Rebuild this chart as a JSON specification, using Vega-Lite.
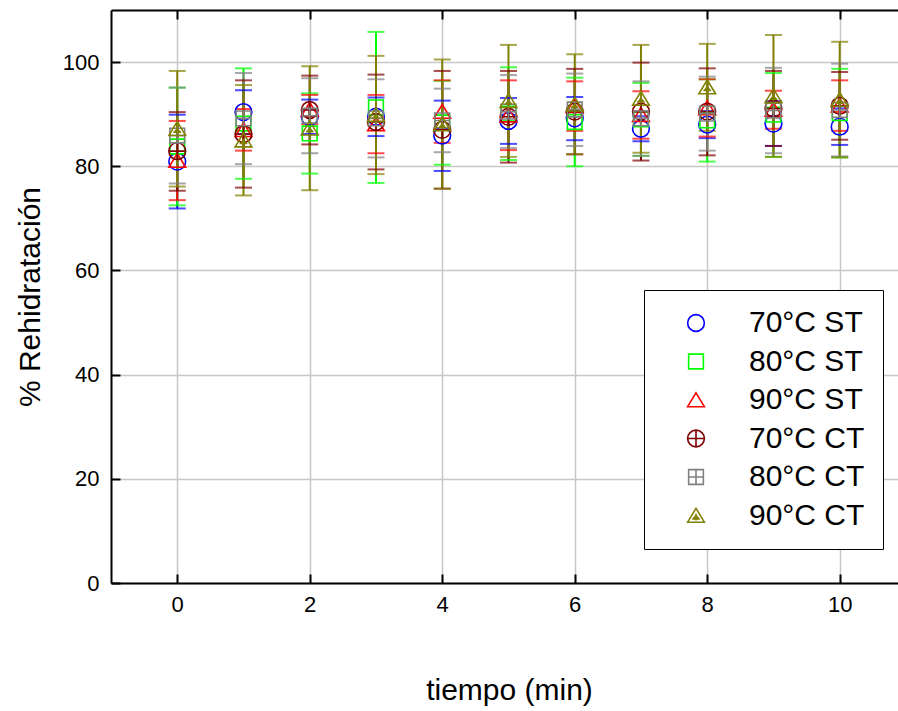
{
  "$schema": "https://vega.github.io/schema/vega-lite/v6.json",
  "autosize": "none",
  "width": 787,
  "height": 573,
  "padding": {"left": 111, "top": 10, "right": 0, "bottom": 128},
  "background": "white",
  "config": {
    "font": "Liberation Sans",
    "view": {"stroke": null},
    "axis": {
      "domainColor": "black",
      "domainWidth": 2,
      "tickColor": "black",
      "tickWidth": 2,
      "tickSize": -9,
      "gridColor": "#c8c8c8",
      "gridWidth": 1.5,
      "labelColor": "black",
      "labelFont": "Liberation Sans",
      "labelFontSize": 22,
      "titleColor": "black",
      "titleFont": "Liberation Sans",
      "titleFontSize": 30,
      "titleFontWeight": "normal"
    },
    "legend": {
      "labelFont": "Liberation Sans",
      "labelFontSize": 30,
      "labelColor": "black",
      "labelLimit": 400
    }
  },
  "data": {
    "values": [
      {"t": 0, "serie": "70°C ST", "media": 80.9, "inf": 71.9, "sup": 89.9},
      {"t": 0, "serie": "80°C ST", "media": 83.8, "inf": 72.5, "sup": 95.1},
      {"t": 0, "serie": "90°C ST", "media": 81.1, "inf": 73.5, "sup": 88.7},
      {"t": 0, "serie": "70°C CT", "media": 82.9, "inf": 75.3, "sup": 90.4},
      {"t": 0, "serie": "80°C CT", "media": 85.9, "inf": 76.7, "sup": 95.1},
      {"t": 0, "serie": "90°C CT", "media": 87.2, "inf": 76.1, "sup": 98.3},
      {"t": 1, "serie": "70°C ST", "media": 90.4, "inf": 86.2, "sup": 94.6},
      {"t": 1, "serie": "80°C ST", "media": 88.2, "inf": 77.6, "sup": 98.8},
      {"t": 1, "serie": "90°C ST", "media": 87.0, "inf": 83.0, "sup": 91.0},
      {"t": 1, "serie": "70°C CT", "media": 86.2, "inf": 75.9, "sup": 96.5},
      {"t": 1, "serie": "80°C CT", "media": 89.2, "inf": 80.4, "sup": 97.9},
      {"t": 1, "serie": "90°C CT", "media": 85.0, "inf": 74.4, "sup": 95.6},
      {"t": 2, "serie": "70°C ST", "media": 89.5, "inf": 86.2, "sup": 92.8},
      {"t": 2, "serie": "80°C ST", "media": 86.3, "inf": 78.6, "sup": 94.0},
      {"t": 2, "serie": "90°C ST", "media": 90.9, "inf": 88.1, "sup": 93.7},
      {"t": 2, "serie": "70°C CT", "media": 90.8, "inf": 84.2, "sup": 97.4},
      {"t": 2, "serie": "80°C CT", "media": 89.7, "inf": 82.5, "sup": 96.9},
      {"t": 2, "serie": "90°C CT", "media": 87.3, "inf": 75.4, "sup": 99.2},
      {"t": 3, "serie": "70°C ST", "media": 89.5, "inf": 85.8, "sup": 93.2},
      {"t": 3, "serie": "80°C ST", "media": 91.3, "inf": 76.8, "sup": 105.8},
      {"t": 3, "serie": "90°C ST", "media": 88.1, "inf": 82.5, "sup": 93.7},
      {"t": 3, "serie": "70°C CT", "media": 88.5, "inf": 79.4, "sup": 97.6},
      {"t": 3, "serie": "80°C CT", "media": 89.2, "inf": 81.7, "sup": 96.7},
      {"t": 3, "serie": "90°C CT", "media": 89.9, "inf": 78.5, "sup": 101.2},
      {"t": 4, "serie": "70°C ST", "media": 85.9, "inf": 79.1, "sup": 92.6},
      {"t": 4, "serie": "80°C ST", "media": 88.4, "inf": 80.3, "sup": 96.4},
      {"t": 4, "serie": "90°C ST", "media": 90.5, "inf": 84.5, "sup": 96.5},
      {"t": 4, "serie": "70°C CT", "media": 87.0, "inf": 75.7, "sup": 98.3},
      {"t": 4, "serie": "80°C CT", "media": 88.8, "inf": 82.7, "sup": 94.9},
      {"t": 4, "serie": "90°C CT", "media": 88.1, "inf": 75.7, "sup": 100.5},
      {"t": 5, "serie": "70°C ST", "media": 88.7, "inf": 84.3, "sup": 93.1},
      {"t": 5, "serie": "80°C ST", "media": 90.1, "inf": 81.2, "sup": 99.0},
      {"t": 5, "serie": "90°C ST", "media": 89.8, "inf": 83.1, "sup": 96.5},
      {"t": 5, "serie": "70°C CT", "media": 89.5, "inf": 80.7, "sup": 98.3},
      {"t": 5, "serie": "80°C CT", "media": 90.5, "inf": 83.5, "sup": 97.5},
      {"t": 5, "serie": "90°C CT", "media": 92.6, "inf": 81.8, "sup": 103.3},
      {"t": 6, "serie": "70°C ST", "media": 89.2, "inf": 85.0, "sup": 93.3},
      {"t": 6, "serie": "80°C ST", "media": 88.5, "inf": 80.0, "sup": 97.0},
      {"t": 6, "serie": "90°C ST", "media": 91.6, "inf": 86.8, "sup": 96.3},
      {"t": 6, "serie": "70°C CT", "media": 90.5, "inf": 82.3, "sup": 98.7},
      {"t": 6, "serie": "80°C CT", "media": 90.9, "inf": 83.9, "sup": 97.8},
      {"t": 6, "serie": "90°C CT", "media": 91.9, "inf": 82.3, "sup": 101.5},
      {"t": 7, "serie": "70°C ST", "media": 87.2, "inf": 84.8, "sup": 89.6},
      {"t": 7, "serie": "80°C ST", "media": 89.0, "inf": 82.0, "sup": 96.0},
      {"t": 7, "serie": "90°C ST", "media": 89.9, "inf": 85.3, "sup": 94.4},
      {"t": 7, "serie": "70°C CT", "media": 90.5, "inf": 81.1, "sup": 99.9},
      {"t": 7, "serie": "80°C CT", "media": 89.2, "inf": 82.0, "sup": 96.3},
      {"t": 7, "serie": "90°C CT", "media": 93.0, "inf": 82.6, "sup": 103.3},
      {"t": 8, "serie": "70°C ST", "media": 88.0, "inf": 85.4, "sup": 90.6},
      {"t": 8, "serie": "80°C ST", "media": 88.8, "inf": 80.9, "sup": 96.7},
      {"t": 8, "serie": "90°C ST", "media": 91.2, "inf": 85.7, "sup": 96.7},
      {"t": 8, "serie": "70°C CT", "media": 90.5, "inf": 82.1, "sup": 98.8},
      {"t": 8, "serie": "80°C CT", "media": 90.1, "inf": 83.0, "sup": 97.2},
      {"t": 8, "serie": "90°C CT", "media": 95.2, "inf": 86.8, "sup": 103.5},
      {"t": 9, "serie": "70°C ST", "media": 88.2, "inf": 83.9, "sup": 92.5},
      {"t": 9, "serie": "80°C ST", "media": 89.9, "inf": 81.8, "sup": 97.9},
      {"t": 9, "serie": "90°C ST", "media": 90.9, "inf": 87.2, "sup": 94.5},
      {"t": 9, "serie": "70°C CT", "media": 91.1, "inf": 83.9, "sup": 98.3},
      {"t": 9, "serie": "80°C CT", "media": 90.7, "inf": 82.5, "sup": 98.9},
      {"t": 9, "serie": "90°C CT", "media": 93.5, "inf": 81.8, "sup": 105.2},
      {"t": 10, "serie": "70°C ST", "media": 87.6, "inf": 84.1, "sup": 91.1},
      {"t": 10, "serie": "80°C ST", "media": 90.2, "inf": 81.7, "sup": 98.7},
      {"t": 10, "serie": "90°C ST", "media": 91.7, "inf": 86.8, "sup": 96.5},
      {"t": 10, "serie": "70°C CT", "media": 91.6, "inf": 85.1, "sup": 98.1},
      {"t": 10, "serie": "80°C CT", "media": 90.8, "inf": 81.9, "sup": 99.7},
      {"t": 10, "serie": "90°C CT", "media": 92.8, "inf": 81.7, "sup": 103.9}
    ]
  },
  "resolve": {"axis": {"x": "independent"}},
  "layer": [
    {
      "mark": {"type": "rule", "strokeWidth": 2},
      "encoding": {
        "x": {
          "field": "t", "type": "quantitative",
          "scale": {"domain": [-1, 10.88], "nice": false, "zero": false},
          "axis": {
            "orient": "bottom",
            "values": [0, 2, 4, 6, 8, 10],
            "title": "tiempo (min)",
            "labelPadding": 20,
            "titlePadding": 60,
            "titleX": 398
          }
        },
        "y": {
          "field": "inf", "type": "quantitative",
          "scale": {"domain": [0, 110], "nice": false},
          "axis": {
            "values": [0, 20, 40, 60, 80, 100],
            "title": "% Rehidratación",
            "labelPadding": 21,
            "titlePadding": 17
          }
        },
        "y2": {"field": "sup"},
        "stroke": {
          "field": "serie", "type": "nominal",
          "scale": {
            "domain": ["70°C CT", "70°C ST", "80°C CT", "80°C ST", "90°C CT", "90°C ST"],
            "range": ["#800000", "#0000ff", "#808080", "#00ff00", "#808000", "#ff0000"]
          },
          "legend": null
        }
      }
    },
    {
      "mark": {"type": "tick", "orient": "horizontal", "size": 17, "thickness": 2},
      "encoding": {
        "x": {"field": "t", "type": "quantitative", "axis": {"orient": "top", "values": [0, 2, 4, 6, 8, 10], "labels": false, "grid": false, "title": null}},
        "y": {"field": "inf", "type": "quantitative"},
        "fill": {"field": "serie", "type": "nominal", "legend": null,
          "scale": {
            "domain": ["90°C ST", "90°C CT", "80°C ST", "80°C CT", "70°C ST", "70°C CT"],
            "range": ["#ff0000", "#808000", "#00ff00", "#808080", "#0000ff", "#800000"]
          }
        }
      }
    },
    {
      "mark": {"type": "tick", "orient": "horizontal", "size": 17, "thickness": 2},
      "encoding": {
        "x": {"field": "t", "type": "quantitative", "axis": null},
        "y": {"field": "sup", "type": "quantitative"},
        "fill": {"field": "serie", "type": "nominal", "legend": null}
      }
    },
    {
      "mark": {"type": "point", "filled": false, "strokeWidth": 1.6, "size": 280, "opacity": 1},
      "encoding": {
        "x": {"field": "t", "type": "quantitative", "axis": null},
        "y": {"field": "media", "type": "quantitative"},
        "color": {
          "field": "serie", "type": "nominal",
          "scale": {
            "domain": ["70°C ST", "80°C ST", "90°C ST", "70°C CT", "80°C CT", "90°C CT"],
            "range": ["#0000ff", "#00ff00", "#ff0000", "#800000", "#808080", "#808000"]
          },
          "legend": {
            "title": null,
            "orient": "none",
            "legendX": 533,
            "legendY": 280,
            "padding": 18,
            "symbolOffset": 19,
            "labelOffset": 38,
            "rowPadding": 8.5,
            "strokeColor": "black",
            "fillColor": "white",
            "symbolSize": 280,
            "symbolStrokeWidth": 1.6,
            "symbolFillColor": "transparent"
          }
        },
        "shape": {
          "field": "serie", "type": "nominal",
          "scale": {
            "domain": ["70°C ST", "80°C ST", "90°C ST", "70°C CT", "80°C CT", "90°C CT"],
            "range": [
              "M1,0A1,1,0,1,1,-1,0A1,1,0,1,1,1,0Z",
              "M-0.88,-0.88L0.88,-0.88L0.88,0.88L-0.88,0.88Z",
              "M0,-0.85L1,0.8L-1,0.8Z",
              "M1,0A1,1,0,1,1,-1,0A1,1,0,1,1,1,0ZM-1,0L1,0M0,-1L0,1",
              "M-0.88,-0.88L0.88,-0.88L0.88,0.88L-0.88,0.88ZM-0.88,0L0.88,0M0,-0.88L0,0.88",
              "M0,-0.85L1,0.8L-1,0.8ZM-0.3,0.35L0,0L0.3,0.35ZM0,-0.2L0,0.6M-0.45,0.4L0.45,0.4"
            ]
          }
        }
      }
    }
  ]
}
